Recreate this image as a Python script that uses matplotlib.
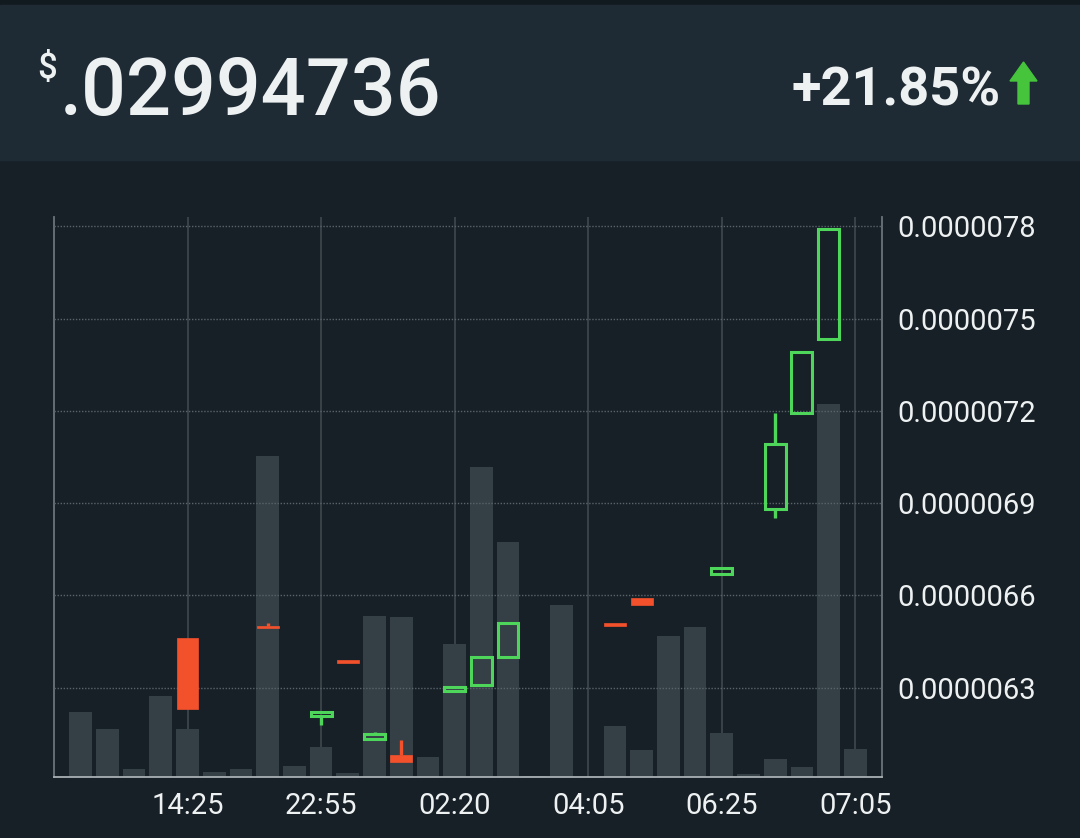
import numpy as np
import matplotlib
matplotlib.use("Agg")
import matplotlib.pyplot as plt
from matplotlib.patches import Rectangle, Polygon
from matplotlib.ticker import FuncFormatter

plt.rcParams["font.family"] = ["Roboto", "DejaVu Sans"]

# volume bars (one per slot, arbitrary units)
volume = [65, 48, 8, 81, 48, 5, 8, 321, 11, 30, 4, 161, 160, 20, 133,
          310, 235, 1, 172, 0, 51, 27, 141, 150, 44, 3, 18, 10, 373, 28]

# candles: slot index, open, close, high, low (x 1e-6)
candle_idx = [4, 7, 9, 10, 11, 12, 14, 15, 16, 20, 21, 24, 26, 27, 28]
candle_open = [6.462, 6.501, 6.208, 6.390, 6.133, 6.082, 6.289, 6.310, 6.401,
               6.511, 6.592, 6.670, 6.882, 7.193, 7.432]
candle_close = [6.232, 6.493, 6.222, 6.381, 6.150, 6.059, 6.304, 6.400, 6.511,
                6.502, 6.569, 6.690, 7.091, 7.390, 7.790]
candle_high = [6.462, 6.511, 6.222, 6.390, 6.157, 6.130, 6.304, 6.400, 6.511,
               6.511, 6.592, 6.690, 7.192, 7.390, 7.790]
candle_low = [6.232, 6.493, 6.180, 6.381, 6.133, 6.059, 6.289, 6.310, 6.401,
              6.502, 6.569, 6.670, 6.851, 7.193, 7.432]

time_ticks = [4, 9, 14, 19, 24, 29]
time_labels = ["14:25", "22:55", "02:20", "04:05", "06:25", "07:05"]
price_ticks = [6.3, 6.6, 6.9, 7.2, 7.5, 7.8]

price_text = ".02994736"
change_text = "+21.85%"

BG = "#172026"
HEADER = "#1e2b34"
BAR = "#353f46"
GREEN = "#4dd65a"
RED = "#f2512c"
TXT = "#eef1f2"

W, H = 1080, 838
fig = plt.figure(figsize=(W / 100, H / 100), dpi=100, facecolor=BG)

# header band
fig.patches.append(Rectangle((0, 1 - 5 / H), 1, 5 / H, transform=fig.transFigure,
                             color="#111a1f", zorder=0))
fig.patches.append(Rectangle((0, 1 - 160 / H), 1, 155 / H, transform=fig.transFigure,
                             color=HEADER, zorder=0))
fig.text(37 / W, 1 - 78 / H, "$", color=TXT, fontsize=25, va="baseline", ha="left",
         fontweight="medium")
fig.text(60 / W, 1 - 115 / H, price_text, color=TXT, fontsize=57, va="baseline",
         ha="left", fontweight="medium")
fig.text(1001 / W, 1 - 105 / H, change_text, color=TXT, fontsize=39, va="baseline",
         ha="right", fontweight="bold")
arrow_px = [(1023.5, 62), (1037, 81), (1029, 81), (1029, 104), (1018, 104),
            (1018, 81), (1010, 81)]
fig.patches.append(Polygon([(x / W, 1 - y / H) for x, y in arrow_px], closed=True,
                           transform=fig.transFigure, color="#45c43c", zorder=1))

# volume axis (bottom layer)
ax_vol = fig.add_axes([54 / W, 1 - 777 / H, (882 - 54) / W, 560 / H])
ax_vol.set_facecolor(BG)
x = np.arange(len(volume))
ax_vol.bar(x, volume, width=0.85, color=BAR, zorder=2)
ax_vol.set_xlim(-1, 30)
ax_vol.set_ylim(0, 560)
ax_vol.set_yticks([])
ax_vol.set_xticks(time_ticks)
ax_vol.set_xticklabels(time_labels, color=TXT, fontsize=21)
ax_vol.tick_params(axis="x", length=0, pad=11)
for t in time_ticks:
    ax_vol.axvline(t, color="#3f484d", lw=1.2, zorder=1)
ax_vol.spines["top"].set_visible(False)
ax_vol.spines["left"].set_color("#6c7478")
ax_vol.spines["right"].set_color("#6c7478")
ax_vol.spines["bottom"].set_color("#aab1b4")
for s in ["left", "right", "bottom"]:
    ax_vol.spines[s].set_linewidth(1.3)

# price axis on top
ax = ax_vol.twinx()
ax.patch.set_visible(False)
ax.set_xlim(-1, 30)
ax.set_ylim(6.010, 7.830)
for p in price_ticks:
    ax.axhline(p, color="#59636a", lw=1, ls=(0, (1, 1.2)), zorder=1)
for s in ax.spines.values():
    s.set_visible(False)
ax.set_yticks(price_ticks)
ax.yaxis.set_major_formatter(FuncFormatter(lambda v, _: f"{v * 1e-6:.7f}"))
ax.tick_params(axis="y", length=0, pad=11, labelcolor=TXT, labelsize=21)

for i, o, c, hi, lo in zip(candle_idx, candle_open, candle_close, candle_high, candle_low):
    up = c >= o
    col = GREEN if up else RED
    bottom = min(o, c)
    top = max(o, c)
    if hi > top:
        ax.vlines(i, top, hi, color=col, lw=2.4, zorder=3)
    if lo < bottom:
        ax.vlines(i, lo, bottom, color=col, lw=2.4, zorder=3)
    if up:
        ax.bar(i, top - bottom, bottom=bottom, width=0.78, facecolor="none",
               edgecolor=col, lw=2.2, zorder=4)
    else:
        ax.bar(i, top - bottom, bottom=bottom, width=0.82, facecolor=col,
               edgecolor=col, lw=0.5, zorder=4)

fig.savefig("out.png", dpi=100, facecolor=BG)
